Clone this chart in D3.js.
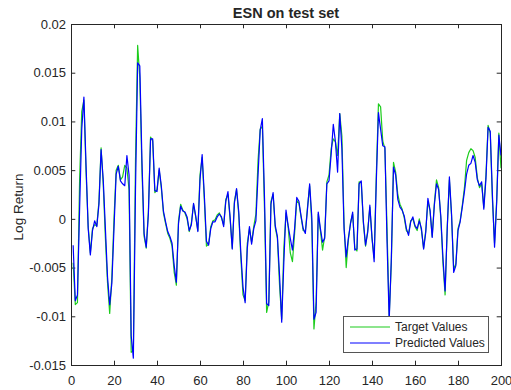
<!DOCTYPE html>
<html>
<head>
<meta charset="utf-8">
<script src="https://cdn.jsdelivr.net/npm/d3@7"></script>
<style>
  body { margin: 0; background: #fff; }
  text { font-family: "Liberation Sans", Arial, Helvetica, sans-serif; fill: #262626; }
</style>
</head>
<body>
<div id="chart"></div>
<script>
// values, index 1..200
const target = [
  -0.0045, -0.0088, -0.0086, 0.0040, 0.0110, 0.0122, 0.0048, -0.0008, -0.0035, -0.0010,
  -0.0006, -0.0007, 0.0018, 0.0073, 0.0035, -0.0020, -0.0066, -0.0097, -0.0060, 0.0000,
  0.0050, 0.0055, 0.0040, 0.0043, 0.0055, 0.0052, 0.0030, -0.0137, -0.0135, 0.0060,
  0.0178, 0.0145, 0.0050, -0.0018, -0.0030, 0.0008, 0.0084, 0.0080, 0.0027, 0.0030,
  0.0050, 0.0032, 0.0006, -0.0005, -0.0015, -0.0020, -0.0028, -0.0055, -0.0068, -0.0002,
  0.0015, 0.0009, 0.0006, 0.0000, -0.0013, -0.0004, 0.0015, 0.0002, -0.0012, 0.0045,
  0.0063, 0.0020, -0.0028, -0.0026, -0.0008, -0.0002, -0.0001, 0.0004, 0.0006, 0.0001,
  -0.0006, 0.0020, 0.0025, 0.0000, -0.0030, 0.0018, 0.0030, 0.0005, -0.0040, -0.0078,
  -0.0084, -0.0025, -0.0010, -0.0024, -0.0008, 0.0005, 0.0060, 0.0092, 0.0095, 0.0010,
  -0.0096, -0.0085, 0.0018, 0.0025, -0.0009, -0.0020, -0.0068, -0.0103, -0.0030, 0.0006,
  -0.0008, -0.0035, -0.0044, -0.0015, 0.0019, 0.0016, 0.0002, -0.0012, -0.0013, 0.0012,
  0.0034, -0.0005, -0.0113, -0.0085, 0.0005, -0.0012, -0.0032, -0.0018, 0.0038, 0.0045,
  0.0072, 0.0082, 0.0079, 0.0065, 0.0108, 0.0085, -0.0005, -0.0050, -0.0022, -0.0004,
  0.0005, -0.0030, -0.0033, 0.0038, 0.0037, -0.0005, -0.0028, -0.0012, 0.0012, -0.0020,
  -0.0040, 0.0045, 0.0118, 0.0115, 0.0080, 0.0072, -0.0010, -0.0100, -0.0045, 0.0058,
  0.0048, 0.0025, 0.0015, 0.0010, 0.0001, -0.0012, -0.0015, -0.0002, 0.0000, -0.0008,
  -0.0012, 0.0000, -0.0012, -0.0030, -0.0012, 0.0018, 0.0008, -0.0018, 0.0016, 0.0040,
  0.0032, 0.0000, -0.0045, -0.0078, -0.0008, 0.0040, 0.0003, -0.0052, -0.0046, -0.0010,
  -0.0002, 0.0014, 0.0032, 0.0060, 0.0068, 0.0072, 0.0070, 0.0063, 0.0042, 0.0032,
  0.0036, 0.0012, 0.0045, 0.0096, 0.0088, 0.0020, -0.0025, 0.0020, 0.0088, 0.0052
]

const predicted = [
  -0.0027, -0.0084, -0.0078, 0.0010, 0.0092, 0.0125, 0.0055, -0.0010, -0.0037, -0.0012,
  -0.0002, -0.0008, 0.0015, 0.0071, 0.0040, -0.0010, -0.0060, -0.0088, -0.0066, -0.0010,
  0.0046, 0.0054, 0.0039, 0.0036, 0.0034, 0.0065, 0.0045, -0.0120, -0.0143, 0.0030,
  0.0160, 0.0157, 0.0060, -0.0015, -0.0029, 0.0005, 0.0082, 0.0082, 0.0029, 0.0028,
  0.0052, 0.0034, 0.0008, -0.0003, -0.0013, -0.0018, -0.0025, -0.0048, -0.0065, -0.0005,
  0.0013, 0.0008, 0.0007, 0.0002, -0.0012, -0.0006, 0.0016, 0.0003, -0.0013, 0.0040,
  0.0066, 0.0025, -0.0023, -0.0027, -0.0010, -0.0003, -0.0003, 0.0002, 0.0005, 0.0002,
  -0.0008, 0.0018, 0.0028, 0.0002, -0.0031, 0.0016, 0.0031, 0.0008, -0.0035, -0.0070,
  -0.0086, -0.0030, -0.0008, -0.0026, -0.0010, -0.0002, 0.0045, 0.0091, 0.0103, 0.0022,
  -0.0087, -0.0089, 0.0015, 0.0027, -0.0007, -0.0018, -0.0058, -0.0106, -0.0044, 0.0009,
  -0.0007, -0.0020, -0.0032, -0.0010, 0.0022, 0.0018, 0.0003, -0.0010, -0.0015, 0.0010,
  0.0036, 0.0002, -0.0103, -0.0096, 0.0007, -0.0010, -0.0024, -0.0020, 0.0036, 0.0039,
  0.0066, 0.0097, 0.0079, 0.0048, 0.0108, 0.0072, -0.0010, -0.0039, -0.0020, -0.0005,
  0.0007, -0.0032, -0.0031, 0.0036, 0.0039, -0.0003, -0.0027, -0.0014, 0.0014, -0.0019,
  -0.0044, 0.0038, 0.0109, 0.0092, 0.0075, 0.0074, -0.0024, -0.0104, -0.0040, 0.0053,
  0.0045, 0.0020, 0.0012, 0.0009, 0.0003, -0.0010, -0.0017, -0.0003, 0.0002, -0.0007,
  -0.0010, -0.0002, -0.0010, -0.0031, -0.0014, 0.0021, 0.0009, -0.0019, 0.0014, 0.0036,
  0.0030, 0.0003, -0.0040, -0.0074, -0.0010, 0.0043, 0.0005, -0.0055, -0.0048, -0.0012,
  -0.0003, 0.0012, 0.0028, 0.0046, 0.0055, 0.0057, 0.0065, 0.0058, 0.0040, 0.0034,
  0.0038, 0.0010, 0.0041, 0.0094, 0.0090, 0.0025, -0.0029, 0.0017, 0.0086, 0.0065
]

const xTicks = [0, 20, 40, 60, 80, 100, 120, 140, 160, 180, 200]
const yTicks = [-0.015, -0.01, -0.005, 0, 0.005, 0.01, 0.015, 0.02]
const yTickLabels = ["-0.015", "-0.01", "-0.005", "0", "0.005", "0.01", "0.015", "0.02"]
const seriesNames = ["Target Values", "Predicted Values"]
const seriesColors = ["#1ccc1c", "#0000ff"]

const width = 511
const height = 390
const margin = { top: 24, left: 71, bottom: 25, right: 10 }
const iwidth = width - margin.left - margin.right
const iheight = height - margin.top - margin.bottom
const tick = 4.3
const axisColor = "#262626"

const svg = d3.select("#chart").append("svg")
  .attr("width", width)
  .attr("height", height)

svg.append("rect").attr("width", width).attr("height", height).attr("fill", "#fff")

const g = svg.append("g")
  .attr("transform", `translate(${margin.left}, ${margin.top})`)

const x = d3.scaleLinear().domain([0, 200]).range([0, iwidth])
const y = d3.scaleLinear().domain([-0.015, 0.02]).range([iheight, 0])

// axes with ticks pointing inward, box on all four sides
const styleAxis = a => a
  .call(a => a.select(".domain").remove())
  .call(a => a.selectAll("line").attr("stroke", axisColor))
  .call(a => a.selectAll("text").attr("font-size", 13).attr("fill", axisColor)
    .attr("font-family", '"Liberation Sans", Arial, sans-serif'))

g.append("g")
  .attr("transform", `translate(0, ${iheight})`)
  .call(d3.axisBottom(x).tickValues(xTicks).tickSizeInner(-tick).tickSizeOuter(0).tickPadding(11))
  .call(styleAxis)

g.append("g")
  .call(d3.axisTop(x).tickValues(xTicks).tickSizeInner(-tick).tickSizeOuter(0).tickFormat(""))
  .call(styleAxis)

g.append("g")
  .call(d3.axisLeft(y).tickValues(yTicks).tickSizeInner(-tick).tickSizeOuter(0).tickPadding(5)
    .tickFormat((d, i) => yTickLabels[i]))
  .call(styleAxis)

g.append("g")
  .attr("transform", `translate(${iwidth}, 0)`)
  .call(d3.axisRight(y).tickValues(yTicks).tickSizeInner(-tick).tickSizeOuter(0).tickFormat(""))
  .call(styleAxis)

g.append("clipPath").attr("id", "clip")
  .append("rect").attr("width", iwidth).attr("height", iheight)

const line = d3.line()
  .x((d, i) => x(i + 1))
  .y(d => y(d))

const plot = g.append("g").attr("clip-path", "url(#clip)")
;[target, predicted].forEach((s, k) => {
  plot.append("path")
    .datum(s)
    .attr("fill", "none")
    .attr("stroke", seriesColors[k])
    .attr("stroke-width", 1.2)
    .attr("stroke-linejoin", "round")
    .attr("d", line)
})

g.append("rect")
  .attr("x", 0.5).attr("y", 0.5)
  .attr("width", iwidth).attr("height", iheight)
  .attr("fill", "none")
  .attr("stroke", axisColor)
  .attr("stroke-width", 1)

// title and y label
svg.append("text")
  .attr("x", margin.left + iwidth / 2)
  .attr("y", 18)
  .attr("text-anchor", "middle")
  .attr("font-size", 14.5)
  .attr("font-weight", "bold")
  .text("ESN on test set")

svg.append("text")
  .attr("transform", `translate(23, 207) rotate(-90)`)
  .attr("text-anchor", "middle")
  .attr("font-size", 13.5)
  .text("Log Return")

// legend
const legend = g.append("g")
  .attr("transform", `translate(${343 - margin.left}, ${316 - margin.top})`)

legend.append("rect")
  .attr("x", 0.5).attr("y", 0.5)
  .attr("width", 145).attr("height", 36)
  .attr("fill", "#fff")
  .attr("stroke", "#555")

seriesNames.forEach((name, k) => {
  const row = legend.append("g").attr("transform", `translate(0, ${11 + k * 16})`)
  row.append("line")
    .attr("x1", 7).attr("x2", 47)
    .attr("stroke", seriesColors[k])
    .attr("stroke-width", 1.2)
  row.append("text")
    .attr("x", 52)
    .attr("dy", "0.35em")
    .attr("font-size", 12)
    .text(name)
})
</script>
</body>
</html>
